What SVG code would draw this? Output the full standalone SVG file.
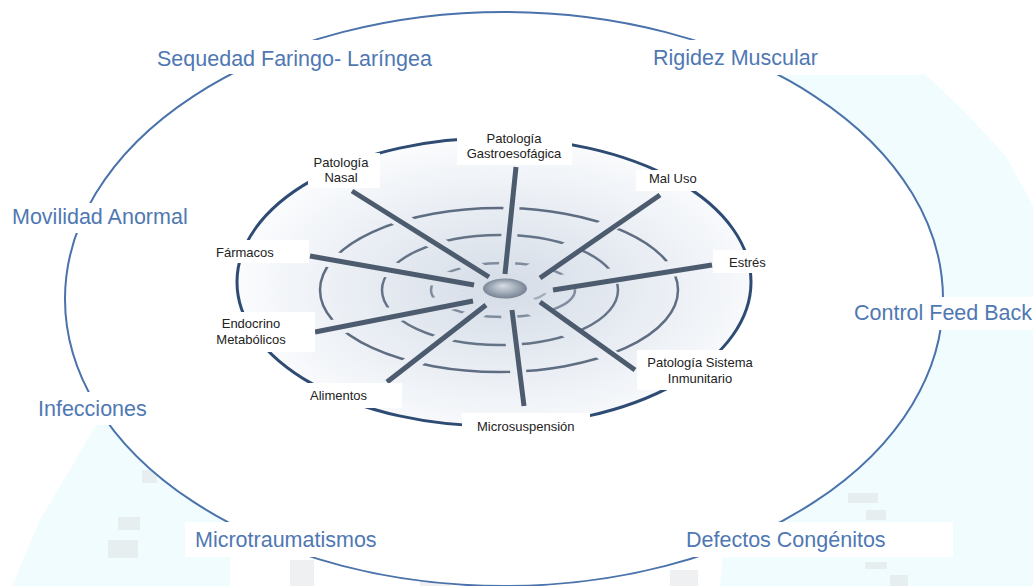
<svg xmlns="http://www.w3.org/2000/svg" width="1033" height="586" viewBox="0 0 1033 586">
  <style>
    .outer-label { font-family: "Liberation Sans", Arial, sans-serif; font-size: 21.5px; fill: #4f78b3; }
    .inner-label { font-family: "Liberation Sans", Arial, sans-serif; font-size: 13px; fill: #222222; }
    .label-bg { fill: #ffffff; }
    .spoke { stroke: #4d5b6e; stroke-width: 5; stroke-linecap: butt; fill: none; }
    .ring { fill: none; stroke: #4f5e74; stroke-width: 2.5; }
    .blot { fill: #d8dadc; opacity: 0.4; }
  </style>
  <defs>
    <radialGradient id="discFill" cx="0.52" cy="0.52" r="0.55" fx="0.52" fy="0.52">
      <stop offset="0" stop-color="#d5dce6"/>
      <stop offset="0.45" stop-color="#e6ebf2"/>
      <stop offset="1" stop-color="#fcfdfe"/>
    </radialGradient>
    <radialGradient id="hubFill" cx="0.5" cy="0.5" r="0.55" fx="0.45" fy="0.35">
      <stop offset="0" stop-color="#d9dee5"/>
      <stop offset="0.6" stop-color="#9aa5b3"/>
      <stop offset="1" stop-color="#6f7b8c"/>
    </radialGradient>
    <!-- cuts the concentric rings where the spokes pass -->
    <mask id="ringGaps" maskUnits="userSpaceOnUse" x="0" y="0" width="1033" height="586">
      <rect x="0" y="0" width="1033" height="586" fill="#ffffff"/>
      <g stroke="#000000" stroke-width="16">
        <line x1="516" y1="150" x2="505" y2="290"/>
        <line x1="340" y1="180" x2="505" y2="288"/>
        <line x1="675" y1="185" x2="505" y2="288"/>
        <line x1="295" y1="253" x2="505" y2="290"/>
        <line x1="725" y1="262" x2="505" y2="290"/>
        <line x1="300" y1="335" x2="505" y2="290"/>
        <line x1="375" y1="392" x2="505" y2="290"/>
        <line x1="526" y1="420" x2="505" y2="290"/>
        <line x1="650" y1="382" x2="505" y2="290"/>
      </g>
    </mask>
  </defs>

  <!-- page background with pale cyan wash outside the large ellipse -->
  <rect x="0" y="0" width="1033" height="586" fill="#ffffff"/>
  <g id="wash" fill="#f1fcfe">
    <polygon points="775,74 925,74 965,112 1005,155 1033,205 1033,586 720,586"/>
    <polygon points="98,422 140,418 230,500 230,586 12,586 40,520"/>
  </g>
  <g id="texture">
    <rect class="blot" x="142" y="470" width="15" height="13"/>
    <rect class="blot" x="118" y="517" width="22" height="13"/>
    <rect class="blot" x="108" y="540" width="30" height="18"/>
    <rect class="blot" x="290" y="560" width="24" height="26"/>
    <rect class="blot" x="420" y="568" width="30" height="18"/>
    <rect class="blot" x="848" y="493" width="30" height="10"/>
    <rect class="blot" x="866" y="510" width="20" height="10"/>
    <rect class="blot" x="865" y="562" width="22" height="7"/>
    <rect class="blot" x="670" y="570" width="28" height="16"/>
    <rect class="blot" x="890" y="575" width="18" height="11"/>
  </g>

  <!-- large outer ellipse -->
  <g id="outer-ring">
    <ellipse cx="504" cy="299" rx="439" ry="287" fill="#ffffff" stroke="#4a72ab" stroke-width="2"/>
  </g>

  <!-- central target disc -->
  <g id="target">
    <ellipse cx="494" cy="282" rx="257" ry="144" fill="url(#discFill)" stroke="#2e4b73" stroke-width="3"/>
    <g mask="url(#ringGaps)">
      <ellipse class="ring" cx="499" cy="290" rx="179" ry="82" opacity="0.9"/>
      <ellipse class="ring" cx="500" cy="290" rx="118" ry="55" opacity="0.85"/>
      <ellipse class="ring" cx="503" cy="290" rx="72" ry="27" opacity="0.65"/>
      <ellipse class="ring" cx="505" cy="289" rx="42" ry="14" opacity="0.4" stroke-width="2"/>
    </g>
  </g>

  <!-- spokes from the hub to each inner factor -->
  <g id="connectors">
    <line class="spoke" x1="516" y1="167" x2="505" y2="274"/>
    <line class="spoke" x1="352" y1="191" x2="489" y2="277"/>
    <line class="spoke" x1="660" y1="195" x2="540" y2="278"/>
    <line class="spoke" x1="310" y1="256" x2="474" y2="285"/>
    <line class="spoke" x1="712" y1="265" x2="553" y2="290"/>
    <line class="spoke" x1="315" y1="332" x2="473" y2="301"/>
    <line class="spoke" x1="387" y1="382" x2="486" y2="305"/>
    <line class="spoke" x1="524" y1="406" x2="512" y2="310"/>
    <line class="spoke" x1="635" y1="370" x2="540" y2="302"/>
  </g>

  <g id="hub">
    <ellipse cx="505" cy="288.5" rx="22" ry="10" fill="url(#hubFill)"/>
  </g>

  <!-- inner factors -->
  <g id="gastro">
    <rect class="label-bg" x="457" y="127" width="115" height="38"/>
    <text class="inner-label" x="514" y="143" text-anchor="middle">Patología</text>
    <text class="inner-label" x="514" y="158" text-anchor="middle">Gastroesofágica</text>
  </g>
  <g id="nasal">
    <rect class="label-bg" x="308" y="153" width="72" height="35"/>
    <text class="inner-label" x="341" y="167" text-anchor="middle">Patología</text>
    <text class="inner-label" x="341" y="182" text-anchor="middle">Nasal</text>
  </g>
  <g id="maluso">
    <rect class="label-bg" x="636" y="170" width="66" height="21"/>
    <text class="inner-label" x="649" y="183">Mal Uso</text>
  </g>
  <g id="farmacos">
    <rect class="label-bg" x="210" y="240" width="99" height="23"/>
    <text class="inner-label" x="216" y="257">Fármacos</text>
  </g>
  <g id="estres">
    <rect class="label-bg" x="713" y="250" width="60" height="23"/>
    <text class="inner-label" x="729" y="267">Estrés</text>
  </g>
  <g id="endocrino">
    <rect class="label-bg" x="210" y="312" width="105" height="40"/>
    <text class="inner-label" x="251" y="328" text-anchor="middle">Endocrino</text>
    <text class="inner-label" x="251" y="344" text-anchor="middle">Metabólicos</text>
  </g>
  <g id="alimentos">
    <rect class="label-bg" x="302" y="383" width="100" height="25"/>
    <text class="inner-label" x="310" y="400">Alimentos</text>
  </g>
  <g id="microsuspension">
    <rect class="label-bg" x="462" y="413" width="128" height="24"/>
    <text class="inner-label" x="477" y="431">Microsuspensión</text>
  </g>
  <g id="inmunitario">
    <rect class="label-bg" x="637" y="350" width="118" height="40"/>
    <text class="inner-label" x="700" y="367" text-anchor="middle">Patología Sistema</text>
    <text class="inner-label" x="700" y="383" text-anchor="middle">Inmunitario</text>
  </g>

  <!-- outer factors -->
  <g id="sequedad">
    <rect class="label-bg" x="148" y="40" width="290" height="34"/>
    <text class="outer-label" x="157" y="66">Sequedad Faringo- Laríngea</text>
  </g>
  <g id="rigidez">
    <rect class="label-bg" x="648" y="40" width="272" height="35"/>
    <text class="outer-label" x="653" y="65">Rigidez Muscular</text>
  </g>
  <g id="movilidad">
    <rect class="label-bg" x="3" y="203" width="190" height="30"/>
    <text class="outer-label" x="12" y="224">Movilidad Anormal</text>
  </g>
  <g id="control">
    <rect class="label-bg" x="850" y="297" width="183" height="33"/>
    <text class="outer-label" x="854" y="320">Control Feed Back</text>
  </g>
  <g id="infecciones">
    <rect class="label-bg" x="31" y="392" width="120" height="33"/>
    <text class="outer-label" x="38" y="416">Infecciones</text>
  </g>
  <g id="microtraumatismos">
    <rect class="label-bg" x="185" y="522" width="195" height="35"/>
    <text class="outer-label" x="195" y="547">Microtraumatismos</text>
  </g>
  <g id="defectos">
    <rect class="label-bg" x="680" y="522" width="273" height="35"/>
    <text class="outer-label" x="686" y="547">Defectos Congénitos</text>
  </g>
</svg>
